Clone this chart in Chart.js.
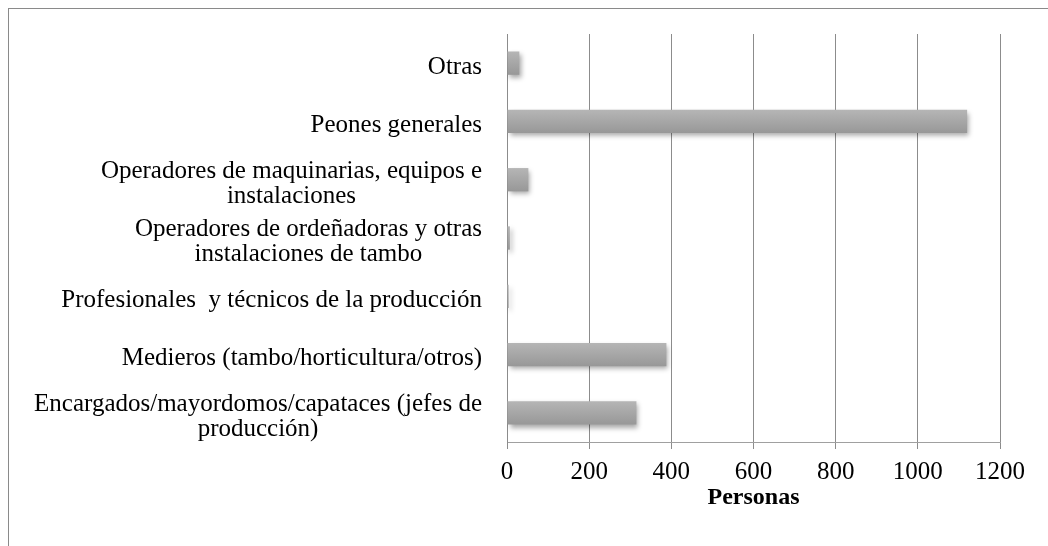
<!DOCTYPE html>
<html>
<head>
<meta charset="utf-8">
<script src="https://cdn.jsdelivr.net/npm/chart.js@4/dist/chart.umd.min.js"></script>
<style>
  html, body { margin: 0; padding: 0; background: #fff; overflow: hidden; }
  #frame {
    position: absolute; left: 8px; top: 8px;
    width: 1200px; height: 700px;
    border: 1px solid #8a8a8a; box-sizing: border-box;
  }
  #wrap { position: absolute; left: 0; top: 0; width: 1048px; height: 546px; }
</style>
</head>
<body>
<div id="frame"></div>
<div id="wrap"><canvas id="chart" width="1048" height="546"></canvas></div>
<script>
// categories top to bottom, each one split into its text lines
const categories = [
    ['Otras'],
    ['Peones generales'],
    ['Operadores de maquinarias, equipos e', 'instalaciones'],
    ['Operadores de ordeñadoras y otras', 'instalaciones de tambo'],
    ['Profesionales  y técnicos de la producción'],
    ['Medieros (tambo/horticultura/otros)'],
    ['Encargados/mayordomos/capataces (jefes de', 'producción)']
];
const personas = [30, 1120, 52, 7, 4, 388, 315];
const xTicks = [0, 200, 400, 600, 800, 1000, 1200];
const xTitle = 'Personas';

const FONT = "'Liberation Serif', 'Times New Roman', serif";

// soft drop shadow under the bars
const barShadow = {
    id: 'barShadow',
    beforeDatasetsDraw(chart) {
        const ctx = chart.ctx;
        ctx.save();
        ctx.shadowColor = 'rgba(0, 0, 0, 0.35)';
        ctx.shadowBlur = 5;
        ctx.shadowOffsetX = 2;
        ctx.shadowOffsetY = 3;
    },
    afterDatasetsDraw(chart) {
        chart.ctx.restore();
    }
};

// category labels: block right aligned, lines centred inside the block
const categoryLabels = {
    id: 'categoryLabels',
    afterDraw(chart) {
        const ctx = chart.ctx;
        const yScale = chart.scales.y;
        const right = chart.chartArea.left - 25;
        const lineH = 25;
        ctx.save();
        ctx.font = '25px ' + FONT;
        ctx.fillStyle = '#000';
        ctx.textAlign = 'center';
        ctx.textBaseline = 'middle';
        categories.forEach((lines, i) => {
            const yc = yScale.getPixelForValue(i) + 4;
            const blockW = Math.max(...lines.map(l => ctx.measureText(l).width));
            const xc = right - blockW / 2;
            lines.forEach((line, j) => {
                ctx.fillText(line, xc, yc + (j - (lines.length - 1) / 2) * lineH);
            });
        });
        ctx.restore();
    }
};

function barGradient(context) {
    const chart = context.chart;
    const yScale = chart.scales.y;
    if (!yScale || !chart.chartArea) return '#a4a4a4';
    const yc = yScale.getPixelForValue(context.dataIndex);
    const g = chart.ctx.createLinearGradient(0, yc - 12, 0, yc + 12);
    g.addColorStop(0, '#b6b6b6');
    g.addColorStop(1, '#979797');
    return g;
}

new Chart(document.getElementById('chart'), {
    type: 'bar',
    data: {
        labels: categories,
        datasets: [{
            label: xTitle,
            data: personas,
            backgroundColor: barGradient,
            borderWidth: 0,
            barPercentage: 0.4,
            categoryPercentage: 1
        }]
    },
    options: {
        indexAxis: 'y',
        responsive: false,
        animation: false,
        layout: { padding: { top: 34, right: 48, bottom: 0, left: 0 } },
        plugins: {
            legend: { display: false },
            tooltip: { enabled: false }
        },
        scales: {
            x: {
                min: 0,
                max: 1200,
                afterBuildTicks: scale => { scale.ticks = xTicks.map(v => ({ value: v })); },
                afterFit: scale => { scale.height = 104; },
                grid: { color: '#8c8c8c', lineWidth: 1, tickLength: 7 },
                border: { display: true, color: '#a0a0a0' },
                ticks: {
                    color: '#000',
                    padding: 8,
                    font: { family: FONT, size: 25 },
                    callback: value => String(value)
                },
                title: {
                    display: true,
                    text: xTitle,
                    color: '#000',
                    padding: 34,
                    font: { family: FONT, size: 24, weight: 'bold' }
                }
            },
            y: {
                afterFit: scale => { scale.width = 507; },
                grid: { display: false },
                border: { display: true, color: '#8c8c8c' },
                ticks: { display: false }
            }
        }
    },
    plugins: [barShadow, categoryLabels]
});
</script>
</body>
</html>
